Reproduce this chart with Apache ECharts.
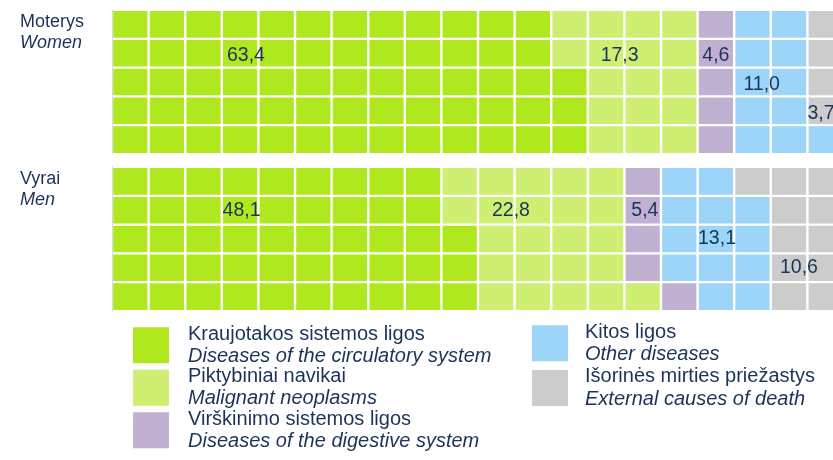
<!DOCTYPE html>
<html><head><meta charset="utf-8">
<script src="https://cdn.jsdelivr.net/npm/echarts@6/dist/echarts.min.js"></script>
<style>html,body{margin:0;padding:0;background:#fff}#c{width:833px;height:460px}</style>
</head><body><div id="c"></div>
<script>
const categoriesLt = ['Kraujotakos sistemos ligos','Piktybiniai navikai','Virškinimo sistemos ligos','Kitos ligos','Išorinės mirties priežastys'];
const categoriesEn = ['Diseases of the circulatory system','Malignant neoplasms','Diseases of the digestive system','Other diseases','External causes of death'];
const groupsLt = ['Moterys','Vyrai'];
const groupsEn = ['Women','Men'];
const womenValues = [63.4, 17.3, 4.6, 11.0, 3.7];
const menValues = [48.1, 22.8, 5.4, 13.1, 10.6];

// styling / layout config
const colors = ['#AFE81E','#CFEF73','#C0B1D3','#9CD5F8','#CCCCCC'];
const textColor = '#1B335A';
const FONT = 'Liberation Sans, Arial, sans-serif';
const COLS = 20, ROWS = 5;
// label anchors in grid units (column, row-from-bottom)
const labelAnchors = [
  [[3.66,3.4],[13.87,3.4],[16.5,3.4],[17.75,2.4],[19.37,1.4]],
  [[3.54,3.5],[10.9,3.5],[14.56,3.5],[16.53,2.5],[18.77,1.5]]
];
const gridTops = [10, 167];

const blocks = [womenValues, menValues];
const series = [];
blocks.forEach((vals, b) => {
  const counts = vals.map(v => Math.round(v));
  let idx = 0;
  counts.forEach((n, k) => {
    const cells = [];
    for (let j = 0; j < n; j++, idx++) {
      cells.push([Math.floor(idx / ROWS), idx % ROWS]);
    }
    const col = colors[k];
    series.push({
      type: 'custom', name: categoriesLt[k], xAxisIndex: b, yAxisIndex: b,
      itemStyle: { color: col }, silent: true, clip: false,
      encode: { x: 0, y: 1 },
      data: cells,
      renderItem: (params, api) => {
        const x0 = api.value(0), y0 = api.value(1);
        const p1 = api.coord([x0, y0 + 1]);
        const p2 = api.coord([x0 + 1, y0]);
        return { type: 'rect',
          shape: { x: p1[0] + 1.2, y: p1[1] + 1.1, width: p2[0] - p1[0] - 2.4, height: p2[1] - p1[1] - 2.2 },
          style: { fill: col } };
      }
    });
  });
  series.push({
    type: 'scatter', xAxisIndex: b, yAxisIndex: b, silent: true, z: 10,
    symbolSize: 2, itemStyle: { color: 'rgba(0,0,0,0)', opacity: 1 },
    data: vals.map((v, k) => [labelAnchors[b][k][0], labelAnchors[b][k][1], v]),
    label: { show: true, position: 'inside', color: textColor, fontSize: 19.5, opacity: 1,
      textBorderWidth: 0, fontFamily: FONT, fontWeight: 'normal',
      formatter: p => p.value[2].toFixed(1).replace('.', ',') }
  });
});

const richText = {
  a: { fontSize: 20, lineHeight: 22.3, color: textColor, fontFamily: FONT, padding: [0,0,0,14] },
  b: { fontSize: 20, lineHeight: 22.3, color: textColor, fontStyle: 'italic', fontFamily: FONT, padding: [0,0,0,14] }
};
const fmt = name => { const k = categoriesLt.indexOf(name); return '{a|' + categoriesLt[k] + '}\n{b|' + categoriesEn[k] + '}'; };

const option = {
  animation: false,
  backgroundColor: '#fff',
  title: groupsLt.map((g, i) => ({
    text: '{a|' + g + '}\n{b|' + groupsEn[i] + '}',
    left: 20, top: gridTops[i] + 1, padding: 0,
    textStyle: { fontWeight: 'normal', rich: {
      a: { fontSize: 18, lineHeight: 21.5, color: textColor, fontFamily: FONT, fontWeight: 'normal' },
      b: { fontSize: 18, lineHeight: 21.5, color: textColor, fontStyle: 'italic', fontFamily: FONT, fontWeight: 'normal' }
    } }
  })),
  grid: gridTops.map(t => ({ left: 112, top: t, width: 732, height: 144, outerBoundsMode: 'none', containLabel: false })),
  xAxis: [0, 1].map(i => ({ type: 'value', gridIndex: i, min: 0, max: COLS, show: false })),
  yAxis: [0, 1].map(i => ({ type: 'value', gridIndex: i, min: 0, max: ROWS, offset: 1,
    axisLine: { show: true, lineStyle: { color: '#D9D9D9', width: 1 } },
    axisTick: { show: false }, axisLabel: { show: false }, splitLine: { show: false } })),
  legend: [
    { data: categoriesLt.slice(0, 3).map(n => ({ name: n, icon: 'rect' })), orient: 'vertical',
      left: 133, top: 324, padding: 0, itemWidth: 36, itemHeight: 36, itemGap: 0.3,
      selectedMode: false, formatter: fmt, textStyle: { rich: richText } },
    { data: categoriesLt.slice(3).map(n => ({ name: n, icon: 'rect' })), orient: 'vertical',
      left: 532, top: 322, padding: 0, itemWidth: 36, itemHeight: 36, itemGap: 2.5,
      selectedMode: false, formatter: fmt, textStyle: { rich: { a: Object.assign({}, richText.a, {padding:[0,0,0,12]}), b: Object.assign({}, richText.b, {padding:[0,0,0,12]}) } } }
  ],
  series: series
};
echarts.init(document.getElementById('c'), null, { renderer: 'canvas' }).setOption(option);
</script></body></html>
